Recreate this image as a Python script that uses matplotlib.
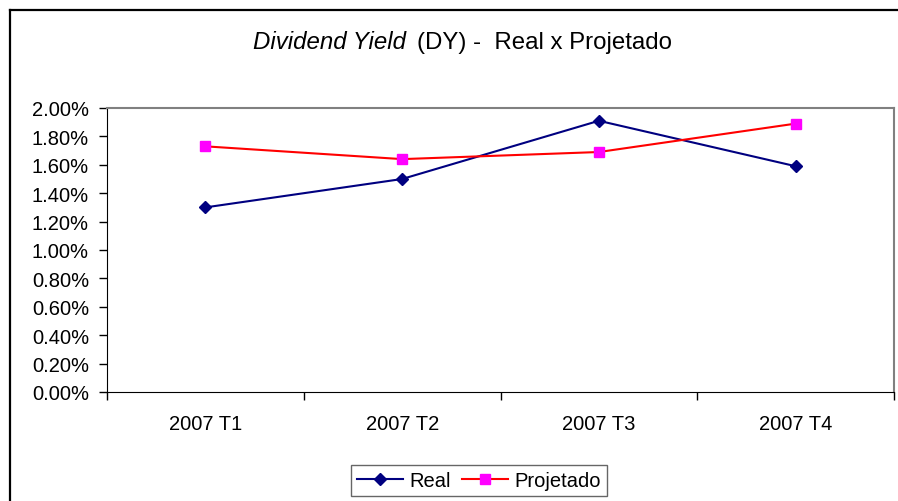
import matplotlib.pyplot as plt
from matplotlib.lines import Line2D
from matplotlib.ticker import FixedLocator, FuncFormatter

plt.rcParams['font.family'] = ['Liberation Sans', 'DejaVu Sans']

# Dados (DY em %)
trimestres = ["2007 T1", "2007 T2", "2007 T3", "2007 T4"]
real = [1.30, 1.50, 1.91, 1.59]
projetado = [1.73, 1.64, 1.69, 1.89]
y_ticks = [0.0, 0.2, 0.4, 0.6, 0.8, 1.0, 1.2, 1.4, 1.6, 1.8, 2.0]

W, H = 898, 502
FS = 14.5
fig = plt.figure(figsize=(W / 100, H / 100), dpi=100)
fig.patch.set_facecolor("white")

# moldura externa (corta nas bordas direita/inferior)
fig.add_artist(Line2D([10 / W, 10 / W], [0, 1 - 11 / H], color="black",
                      linewidth=1.6, transform=fig.transFigure))
fig.add_artist(Line2D([10 / W, 1.0], [1 - 11 / H, 1 - 11 / H], color="black",
                      linewidth=1.6, transform=fig.transFigure))

ax = fig.add_axes([107 / W, 109 / H, 787 / W, 284 / H])
x = list(range(len(trimestres)))

ax.plot(x, real, color="#000080", linewidth=1.5, marker="D", markersize=6.5,
        markerfacecolor="#000080", markeredgecolor="#000080", label="Real")
ax.plot(x, projetado, color="#FF0000", linewidth=1.5, marker="s", markersize=7.5,
        markerfacecolor="#FF00FF", markeredgecolor="#FF00FF", label="Projetado")

ax.set_xlim(-0.5, len(trimestres) - 0.5)
ax.set_ylim(0, 2.0)

ax.yaxis.set_major_locator(FixedLocator(y_ticks))
ax.yaxis.set_major_formatter(FuncFormatter(lambda v, p: f"{v:.2f}%"))
ax.tick_params(axis="y", direction="out", length=6, width=1, pad=7,
               labelsize=FS, colors="black")

ax.set_xticks(x)
ax.set_xticklabels(trimestres)
ax.set_xticks([i - 0.5 for i in range(len(trimestres) + 1)], minor=True)
ax.tick_params(axis="x", which="major", length=0, pad=16, labelsize=FS)
ax.tick_params(axis="x", which="minor", direction="out", length=6, width=1)

ax.spines["top"].set_color("#808080")
ax.spines["right"].set_color("#808080")
ax.spines["top"].set_linewidth(1.5)
ax.spines["right"].set_linewidth(1.5)
ax.spines["left"].set_color("black")
ax.spines["bottom"].set_color("black")

# Título (parte em itálico)
fig.text(406 / W, 1 - 49 / H, "Dividend Yield", style="italic", fontsize=17.3,
         ha="right", va="baseline")
fig.text(417 / W, 1 - 49 / H, "(DY) -  Real x Projetado", fontsize=17.3,
         ha="left", va="baseline")

leg = fig.legend(loc="upper center", bbox_to_anchor=(479 / W, 1 - 466 / H),
                 ncol=2, fontsize=FS, frameon=True, fancybox=False,
                 handlelength=2.3, handletextpad=0.3, columnspacing=0.55,
                 borderpad=0.3, borderaxespad=0)
leg.get_frame().set_edgecolor("#404040")
leg.get_frame().set_linewidth(1.0)

fig.savefig("out.png", dpi=100)
